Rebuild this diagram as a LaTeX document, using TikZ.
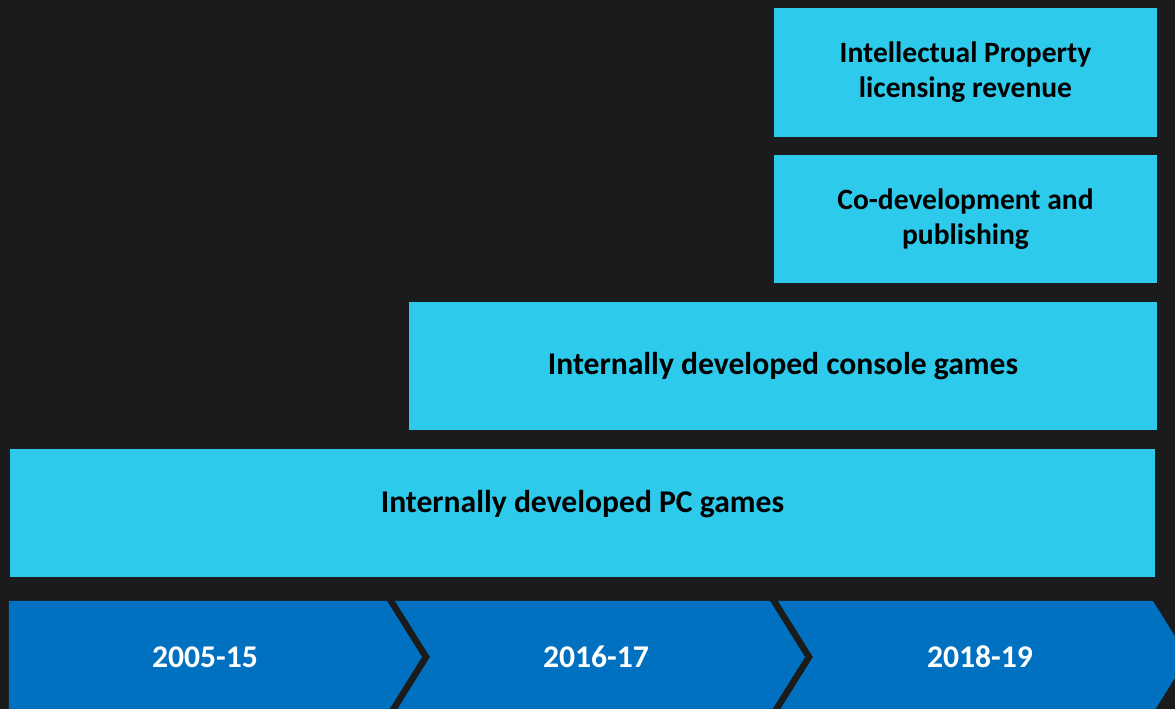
\documentclass[tikz,border=0pt]{standalone}
\usepackage{fontspec}
\setmainfont{Carlito}
\usetikzlibrary{positioning}
\definecolor{backdrop}{HTML}{1B1B1B}
\definecolor{stream}{HTML}{2ECAEC}
\definecolor{period}{HTML}{0070C0}
\tikzset{
  streambox/.style={rectangle, fill=stream, text=black, font=\bfseries\fontsize{18}{21}\selectfont, align=center, inner sep=0pt},
  smallstream/.style={streambox, font=\bfseries\fontsize{16.8}{19.8}\selectfont, minimum width=7.66cm},
  periodlabel/.style={text=white, font=\bfseries\fontsize{18}{21}\selectfont, inner sep=0pt}
}
\newcommand{\tipoff}{0.7}
\newcommand{\chevtop}{2.16}
\newcommand{\chevmid}{1.04}
\newcommand{\chevbot}{-0.08}

\begin{document}
\begin{tikzpicture}
% background
\fill[backdrop] (0,0) rectangle (23.5,14.18);
\useasboundingbox (0,0) rectangle (23.5,14.18);

% revenue streams
\node[smallstream, minimum height=2.58cm] (ip) at (19.31,12.73) {Intellectual Property\\licensing revenue};
\node[smallstream, minimum height=2.56cm] (codev) at (19.31,9.8) {Co-development and\\publishing};
\node[streambox, minimum width=14.96cm, minimum height=2.56cm] (console) at (15.66,6.86) {Internally developed console games};
\node[streambox, minimum width=22.9cm, minimum height=2.56cm, text depth=0.45cm] (pc) at (11.65,3.92) {Internally developed PC games};

% periods
\fill[period] (0.18,\chevtop) -- (7.74,\chevtop) -- ++(\tipoff,\chevmid-\chevtop) -- (7.74,\chevbot) -- (0.18,\chevbot) -- cycle;
\foreach \l/\r in {7.90/15.40, 15.56/23.06}{
  \fill[period] (\l,\chevtop) -- (\r,\chevtop) -- ++(\tipoff,\chevmid-\chevtop) -- (\r,\chevbot)
    -- (\l,\chevbot) -- ++(\tipoff,\chevmid-\chevbot) -- cycle;
}
\node[periodlabel] (p1) at (4.1,\chevmid) {2005-15};
\node[periodlabel] (p2) at (11.92,\chevmid) {2016-17};
\node[periodlabel] (p3) at (19.6,\chevmid) {2018-19};
\end{tikzpicture}
\end{document}
